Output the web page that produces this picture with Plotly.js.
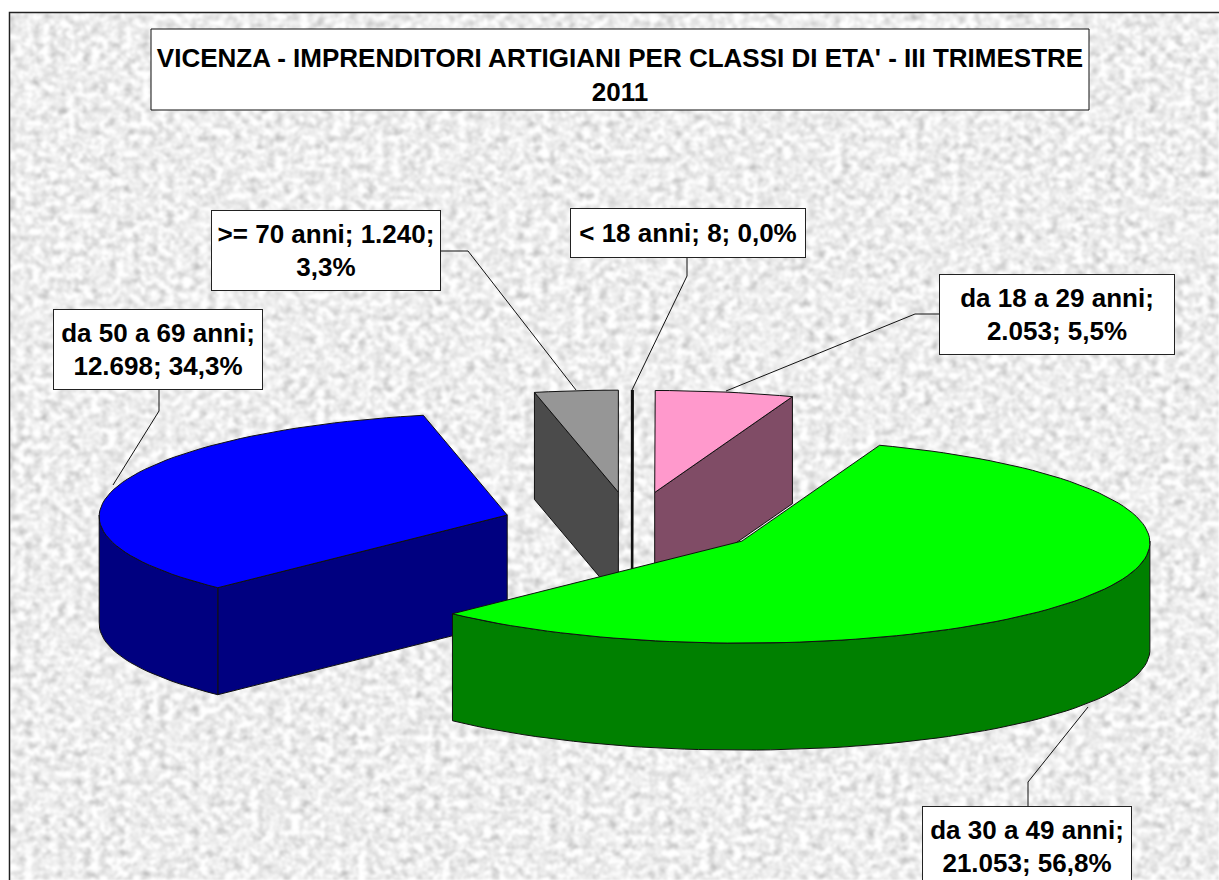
<!DOCTYPE html>
<html>
<head>
<meta charset="utf-8">
<script src="https://cdn.plot.ly/plotly-3.0.1.min.js"></script>
<style>
html,body{margin:0;padding:0;background:#fff;width:1219px;height:880px;overflow:hidden}
#bg{position:absolute;left:0;top:0}
#chart{position:absolute;left:0;top:0;width:1219px;height:880px}
</style>
</head>
<body>
<svg id="bg" width="1219" height="880" xmlns="http://www.w3.org/2000/svg">
  <defs>
    <filter id="marble" x="0" y="0" width="100%" height="100%" color-interpolation-filters="sRGB">
      <feTurbulence type="fractalNoise" baseFrequency="0.12 0.14" numOctaves="3" seed="7"/>
      <feColorMatrix type="matrix" values="0.3 0.3 0 0 0.63  0.3 0.3 0 0 0.63  0.3 0.3 0 0 0.63  0 0 0 0 1"/>
      <feGaussianBlur stdDeviation="0.8"/>
    </filter>
  </defs>
  <rect x="9" y="12" width="1210" height="868" filter="url(#marble)"/>
  <path d="M9.5 880V12.5H1219" fill="none" stroke="#222" stroke-width="1.5"/>
</svg>
<div id="chart"></div>
<script>
// --- data ---
const categories = ["< 18 anni", "da 18 a 29 anni", "da 30 a 49 anni", "da 50 a 69 anni", ">= 70 anni"];
const values = [8, 2053, 21053, 12698, 1240];
const valueLabels = ["8", "2.053", "21.053", "12.698", "1.240"];
const percentLabels = ["0,0%", "5,5%", "56,8%", "34,3%", "3,3%"];
const titleText = "VICENZA - IMPRENDITORI ARTIGIANI PER CLASSI DI ETA' - III TRIMESTRE<br>2011";

// --- styles ---
const topColors = ["#000000", "#ff99cc", "#00ff00", "#0000ff", "#969696"];
const sideColors = ["#000000", "#804c66", "#008000", "#000080", "#4b4b4b"];
const outlineWidths = [2.5, 1, 1, 1, 1];
const drawOrder = [4, 0, 1, 3, 2];
const labelBreaks = [
  c => `${c[0]}; ${c[1]}; ${c[2]}`,
  c => `${c[0]};<br>${c[1]}; ${c[2]}`,
  c => `${c[0]};<br>${c[1]}; ${c[2]}`,
  c => `${c[0]};<br>${c[1]}; ${c[2]}`,
  c => `${c[0]}; ${c[1]};<br>${c[2]}`
];
const labelBoxes = [[570, 208, 806, 258], [939, 274, 1175, 355], [922, 806, 1132, 887], [53, 309, 263, 390], [211, 210, 441, 291]];
const leaders = [
  "M687,258 L687,276 L632,390",
  "M939,314 L915,314 L726,391",
  "M1028,806 L1028,782 L1088,707",
  "M159,390 L159,411 L113,485",
  "M441,251 L468,251 L576,390"
];

// --- projection of the exploded pie ---
const CX = 632, CY = 524, RX = 408, RY_BACK = 102, RY_FRONT = 102, DEPTH = 107;
const EXPLODE_X = 130, EXPLODE_Y = 32, PERSPECTIVE = 0.015;
const total = values.reduce((a, b) => a + b, 0);
const rad = d => d * Math.PI / 180;
const traces = [];
let acc = 0;
const sectors = values.map((v, i) => {
  const start = acc / total * 360;
  acc += v;
  return {i, start, end: acc / total * 360};
});
function poly(xs, ys, color, name, w) {
  traces.push({type: "scatter", mode: "lines", x: xs, y: ys, fill: "toself", fillcolor: color,
    line: {color: "#111", width: w}, name, hoverinfo: "name", showlegend: false});
}
drawOrder.forEach(idx => {
  const s = sectors[idx];
  const w = outlineWidths[idx];
  const mid = rad((s.start + s.end) / 2);
  const ax = CX + EXPLODE_X * Math.sin(mid);
  const ay = CY - EXPLODE_Y * Math.cos(mid);
  const px = a => ax + RX * (1 - PERSPECTIVE * Math.cos(rad(a))) * Math.sin(rad(a));
  const py = a => { const c = Math.cos(rad(a)); return ay - (c < 0 ? RY_FRONT : RY_BACK) * c; };
  const name = categories[idx];
  // radial cut faces turned towards the viewer
  [[s.start, Math.sin(rad(s.start)) < 0], [s.end, Math.sin(rad(s.end)) > 0]].forEach(([a, vis]) => {
    if (vis) poly([ax, px(a), px(a), ax, ax], [ay, py(a), py(a) + DEPTH, ay + DEPTH, ay], sideColors[idx], name, w);
  });
  // outer rim, front half only
  const r0 = Math.max(s.start, 90), r1 = Math.min(s.end, 270);
  if (r1 > r0) {
    const xs = [], ys = [];
    for (let a = r0; a <= r1; a += 2) { xs.push(px(a)); ys.push(py(a)); }
    xs.push(px(r1)); ys.push(py(r1));
    const bx = xs.slice().reverse(), by = ys.slice().reverse().map(y => y + DEPTH);
    poly(xs.concat(bx, [xs[0]]), ys.concat(by, [ys[0]]), sideColors[idx], name, w);
  }
  // top
  const tx = [ax], ty = [ay];
  for (let a = s.start; a < s.end; a += 2) { tx.push(px(a)); ty.push(py(a)); }
  tx.push(px(s.end), ax); ty.push(py(s.end), ay);
  poly(tx, ty, topColors[idx], name, w);
});

const FS = 26;
const annotations = categories.map((c, i) => {
  const b = labelBoxes[i];
  return {
    x: (b[0] + b[2]) / 2, y: (b[1] + b[3]) / 2, xref: "x", yref: "y", showarrow: false,
    xanchor: "center", yanchor: "middle", width: b[2] - b[0] - 2, height: b[3] - b[1] - 2,
    align: "center", valign: "middle",
    text: labelBreaks[i]([c, valueLabels[i], percentLabels[i]]),
    bgcolor: "#fff", bordercolor: "#222", borderwidth: 1, borderpad: 0,
    font: {family: "Liberation Sans, Arial, sans-serif", size: FS, color: "#000", weight: 700}
  };
});
const shapes = [{type: "rect", xref: "x", yref: "y", x0: 151, x1: 1089, y0: 29, y1: 110,
  fillcolor: "#fff", line: {color: "#111", width: 1}, layer: "below"}]
  .concat(leaders.map(p => ({type: "path", xref: "x", yref: "y", path: p, line: {color: "#111", width: 1}, layer: "below"})));

Plotly.newPlot("chart", traces, {
  width: 1219, height: 880, margin: {l: 0, r: 0, t: 0, b: 0},
  paper_bgcolor: "rgba(0,0,0,0)", plot_bgcolor: "rgba(0,0,0,0)", showlegend: false,
  title: {text: titleText, x: 620 / 1219, xanchor: "center", y: 1 - 67 / 880, yanchor: "middle",
    font: {family: "Liberation Sans, Arial, sans-serif", size: 26, color: "#000", weight: 700}},
  xaxis: {range: [0, 1219], visible: false, fixedrange: true},
  yaxis: {range: [880, 0], visible: false, fixedrange: true},
  annotations, shapes
}, {displayModeBar: false, staticPlot: true});
</script>
</body>
</html>
